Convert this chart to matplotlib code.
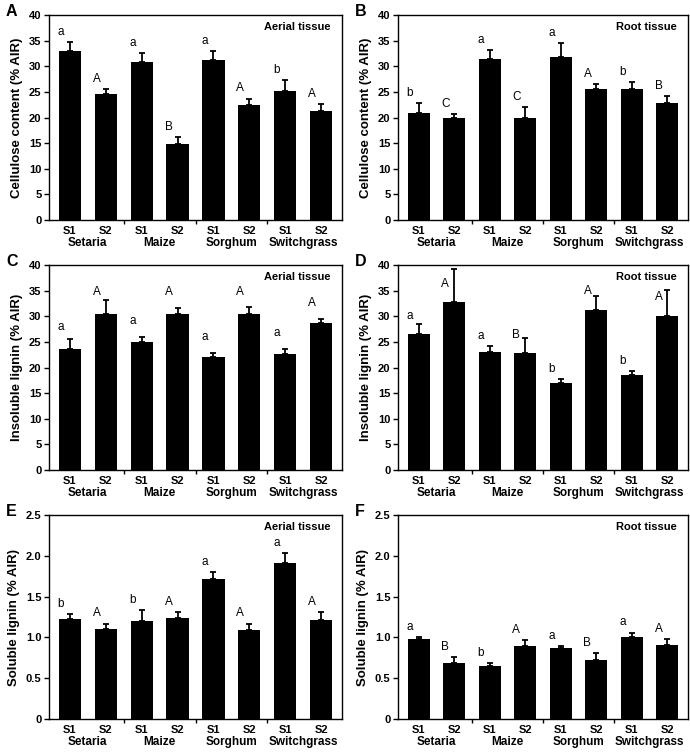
import matplotlib
matplotlib.use("Agg")
import matplotlib.pyplot as plt
from matplotlib.transforms import blended_transform_factory

plt.rcParams['font.family'] = ['Liberation Sans', 'DejaVu Sans']
plt.rcParams['font.weight'] = 'bold'

species = ["Setaria", "Maize", "Sorghum", "Switchgrass"]
stages = ["S1", "S2", "S1", "S2", "S1", "S2", "S1", "S2"]

# Panel A: cellulose, aerial
cell_aerial = [33.0, 24.5, 30.8, 14.8, 31.2, 22.4, 25.2, 21.3]
cell_aerial_err = [1.8, 1.0, 1.8, 1.4, 1.8, 1.3, 2.1, 1.3]
cell_aerial_let = ["a", "A", "a", "B", "a", "A", "b", "A"]
# Panel B: cellulose, root
cell_root = [20.8, 19.9, 31.5, 20.0, 31.9, 25.5, 25.5, 22.9]
cell_root_err = [2.1, 0.8, 1.7, 2.0, 2.7, 1.0, 1.5, 1.2]
cell_root_let = ["b", "C", "a", "C", "a", "A", "b", "B"]
# Panel C: insoluble lignin, aerial
insl_aerial = [23.6, 30.4, 25.0, 30.4, 22.1, 30.5, 22.6, 28.6]
insl_aerial_err = [1.9, 2.8, 1.0, 1.2, 0.7, 1.3, 1.0, 0.8]
insl_aerial_let = ["a", "A", "a", "A", "a", "A", "a", "A"]
# Panel D: insoluble lignin, root
insl_root = [26.5, 32.8, 23.1, 22.8, 16.9, 31.3, 18.6, 30.1]
insl_root_err = [1.9, 6.5, 1.0, 3.0, 0.9, 2.6, 0.7, 5.0]
insl_root_let = ["a", "A", "a", "B", "b", "A", "b", "A"]
# Panel E: soluble lignin, aerial
sol_aerial = [1.23, 1.10, 1.20, 1.24, 1.71, 1.09, 1.91, 1.21]
sol_aerial_err = [0.06, 0.07, 0.14, 0.07, 0.09, 0.08, 0.12, 0.10]
sol_aerial_let = ["b", "A", "b", "A", "a", "A", "a", "A"]
# Panel F: soluble lignin, root
sol_root = [0.98, 0.69, 0.65, 0.89, 0.87, 0.72, 1.00, 0.91]
sol_root_err = [0.02, 0.07, 0.04, 0.08, 0.02, 0.09, 0.06, 0.07]
sol_root_let = ["a", "B", "b", "A", "a", "B", "a", "A"]

panels = [
    ("A", cell_aerial, cell_aerial_err, cell_aerial_let, "Cellulose content (% AIR)", "Aerial tissue"),
    ("B", cell_root, cell_root_err, cell_root_let, "Cellulose content (% AIR)", "Root tissue"),
    ("C", insl_aerial, insl_aerial_err, insl_aerial_let, "Insoluble lignin (% AIR)", "Aerial tissue"),
    ("D", insl_root, insl_root_err, insl_root_let, "Insoluble lignin (% AIR)", "Root tissue"),
    ("E", sol_aerial, sol_aerial_err, sol_aerial_let, "Soluble lignin (% AIR)", "Aerial tissue"),
    ("F", sol_root, sol_root_err, sol_root_let, "Soluble lignin (% AIR)", "Root tissue"),
]

# letter placement (gap above error bar, max height above bar top)
letter_gap = {"A": 0.8, "B": 0.8, "C": 2.0, "D": 0.8, "E": 0.05, "F": 0.05}
letter_cap = {"A": 99, "B": 99, "C": 3.1, "D": 2.4, "E": 99, "F": 99}

W, H = 690, 753
fig = plt.figure(figsize=(W / 100, H / 100), dpi=100)

lefts = [49, 398]
rights = [342, 688]
tops = [15, 265, 515]
bottoms = [220, 470, 719]

for i, (tag, vals, errs, lets, ylab, tissue) in enumerate(panels):
    r, c = divmod(i, 2)
    l, rt = lefts[c], rights[c]
    t, b = tops[r], bottoms[r]
    ax = fig.add_axes([l / W, 1 - b / H, (rt - l) / W, (b - t) / H])
    x = list(range(len(vals)))
    ax.bar(x, vals, width=0.62, color="black", zorder=2)
    ax.errorbar(x, vals, yerr=[[0] * len(vals), errs], fmt="none", ecolor="black",
                elinewidth=1.3, capsize=2.5, capthick=1.3, zorder=3)
    soluble = r == 2
    if soluble:
        ymax = 2.5
        ticks = [0, 0.5, 1.0, 1.5, 2.0, 2.5]
        tlabels = ["0", "0.5", "1.0", "1.5", "2.0", "2.5"]
    else:
        ymax = 40
        ticks = list(range(0, 41, 5))
        tlabels = [str(v) for v in ticks]
    ax.set_ylim(0, ymax)
    ax.set_xlim(-0.58, 7.58)
    ax.set_yticks(ticks)
    ax.set_yticklabels(tlabels, fontsize=8, fontweight="bold")
    ax.set_xticks(x)
    ax.set_xticklabels(stages, fontsize=8, fontweight="bold")
    ax.set_xticks([1.5, 3.5, 5.5], minor=True)
    ax.tick_params(axis="x", which="major", length=0, pad=4)
    ax.tick_params(axis="x", which="minor", length=3, width=1, direction="out")
    ax.tick_params(axis="y", length=3.5, width=1, direction="out", pad=2)
    for s in ax.spines.values():
        s.set_linewidth(1.0)
    ax.set_ylabel(ylab, fontsize=9.5, fontweight="bold", labelpad=4)
    gap, cap = letter_gap[tag], letter_cap[tag]
    scale = ymax / 40
    for xi, v, e, lt in zip(x, vals, errs, lets):
        y = min(v + e + gap, v + cap * scale)
        ax.text(xi - 0.25, y, lt, ha="center", va="bottom", fontsize=8.5,
                fontweight="normal")
    ax.text(0.96, 0.967, tissue, transform=ax.transAxes, ha="right", va="top",
            fontsize=8, fontweight="bold")
    trans = blended_transform_factory(ax.transData, ax.transAxes)
    for gi, name in enumerate(species):
        ax.annotate(name, xy=(2 * gi + 0.5, 0), xycoords=trans, xytext=(0, -16.5),
                    textcoords="offset points", ha="center", va="center",
                    fontsize=8.5, fontweight="bold")
    fig.text((l - 43) / W, 1 - (t - 3) / H, tag, ha="left", va="center",
             fontsize=11.5, fontweight="bold")

fig.savefig("out.png", dpi=100)
